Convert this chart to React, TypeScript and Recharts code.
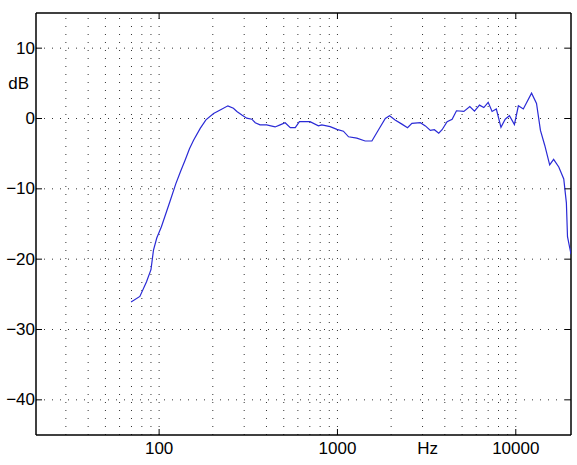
import React from "react";
import { LineChart, Line, XAxis, YAxis, ReferenceLine } from "recharts";

const freqHz = [
  69.6, 78, 85, 90, 93, 97, 103, 115, 124, 132, 140, 148, 156, 170, 183, 202,
  220, 243, 261, 273, 291, 310, 331, 346, 368, 401, 447, 477, 509, 544, 580,
  612, 702, 782, 817, 910, 993, 1080, 1154, 1284, 1430, 1560, 1700, 1855, 1960,
  2105, 2298, 2472, 2615, 2917, 3112, 3318, 3495, 3698, 3862, 4120, 4397, 4650,
  5115, 5524, 5867, 6259, 6618, 7003, 7363, 7780, 8258, 8724, 9215, 9825,
  10340, 11020, 12260, 13070, 13750, 14530, 15490, 16300, 17420, 18580, 19220,
  19500, 20400,
];

const levelDb = [
  -26.1, -25.3, -23.2, -21.5, -18.7, -17.0, -15.4, -11.8, -9.3, -7.5, -5.9,
  -4.3, -3.1, -1.4, -0.2, 0.7, 1.2, 1.8, 1.45, 1.0, 0.5, 0.05, -0.1, -0.6, -0.9,
  -0.9, -1.2, -0.9, -0.6, -1.3, -1.3, -0.45, -0.45, -1.05, -0.9, -1.15, -1.55,
  -1.8, -2.6, -2.8, -3.2, -3.2, -1.6, 0.0, 0.4, -0.2, -0.8, -1.3, -0.7, -0.6,
  -1.05, -1.7, -1.6, -2.1, -1.6, -0.45, -0.1, 1.1, 1.0, 1.7, 1.05, 1.9, 1.55,
  2.3, 1.0, 1.35, -1.25, -0.1, 0.4, -0.85, 1.8, 1.35, 3.6, 2.15, -1.7, -3.8,
  -6.6, -5.8, -6.9, -8.6, -12.0, -16.8, -19.3,
];

// axis ticks; the unit labels sit on ticks of their own
const xTicks = [100, 1000, 3200, 10000];
const xTickText: Record<number, string> = { 100: "100", 1000: "1000", 3200: "Hz", 10000: "10000" };
const yTicks = [-40, -30, -20, -10, 0, 5, 10];
const yTickText: Record<number, string> = { 5: "dB" };

const xGrid = [30, 40, 50, 60, 70, 80, 90, 100, 200, 300, 400, 500, 600, 700, 800, 900,
  1000, 2000, 3000, 4000, 5000, 6000, 7000, 8000, 9000, 10000];
const yGrid = [-40, -30, -20, -10, 0, 10];

const data = freqHz.map((f, i) => ({ f, db: levelDb[i] }));

const W = 577;
const H = 465;
const LEFT = 36;
const RIGHT = 571;
const TOP = 13;
const BOTTOM = 435;
const TICK = 6;
const FONT = "'Liberation Sans', Arial, Helvetica, sans-serif";
const FS = 17;

const XTick = (props: any) => {
  const { x, payload } = props;
  const v = payload.value;
  const label = xTickText[v] ?? String(v);
  return (
    <g>
      {v !== 3200 && (
        <>
          <line x1={x} x2={x} y1={BOTTOM} y2={BOTTOM - TICK} stroke="#000" strokeWidth={1} />
          <line x1={x} x2={x} y1={TOP} y2={TOP + TICK} stroke="#000" strokeWidth={1} />
        </>
      )}
      <text x={x} y={448} textAnchor="middle" dominantBaseline="central"
        fontFamily={FONT} fontSize={FS} fill="#000">
        {label}
      </text>
    </g>
  );
};

const YTick = (props: any) => {
  const { y, payload } = props;
  const v = payload.value;
  if (yTickText[v]) {
    return (
      <text x={LEFT - 7} y={y} textAnchor="end" dominantBaseline="central"
        fontFamily={FONT} fontSize={FS} fill="#000">
        {yTickText[v]}
      </text>
    );
  }
  const label = v < 0 ? "\u2212" + Math.abs(v) : String(v);
  return (
    <g>
      <line x1={LEFT} x2={LEFT + TICK} y1={y} y2={y} stroke="#000" strokeWidth={1} />
      <line x1={RIGHT - TICK} x2={RIGHT} y1={y} y2={y} stroke="#000" strokeWidth={1} />
      <text x={LEFT - 1} y={y} textAnchor="end" dominantBaseline="central"
        fontFamily={FONT} fontSize={FS} fill="#000">
        {label}
      </text>
    </g>
  );
};

const App = () => {
  return (
    <div style={{ position: "absolute", left: 0, top: 0, width: W, height: H, background: "#fff" }}>
      <LineChart width={W} height={H} data={data}
        margin={{ top: TOP, right: W - RIGHT, bottom: 0, left: 0 }}>
        {xGrid.map((g) => (
          <ReferenceLine key={`x${g}`} x={g} stroke="#333" strokeWidth={1} strokeDasharray="1 7" />
        ))}
        {yGrid.map((g) => (
          <ReferenceLine key={`y${g}`} y={g} stroke="#333" strokeWidth={1} strokeDasharray="1 7" />
        ))}
        <XAxis dataKey="f" type="number" scale="log" domain={[20.4, 20400]} allowDataOverflow
          ticks={xTicks} interval={0} tick={<XTick />} tickLine={false}
          axisLine={{ stroke: "#000", strokeWidth: 1.5 }} height={H - BOTTOM} />
        <YAxis type="number" domain={[-45, 15]} allowDataOverflow ticks={yTicks} interval={0}
          tick={<YTick />} tickLine={false} axisLine={{ stroke: "#000", strokeWidth: 1.5 }}
          width={LEFT} />
        <ReferenceLine y={15} stroke="#000" strokeWidth={1.5} />
        <ReferenceLine x={20400} stroke="#000" strokeWidth={1.5} />
        <Line type="linear" dataKey="db" stroke="#2a2ad6" strokeWidth={1.2} dot={false}
          isAnimationActive={false} />
      </LineChart>
    </div>
  );
};

export default App;
